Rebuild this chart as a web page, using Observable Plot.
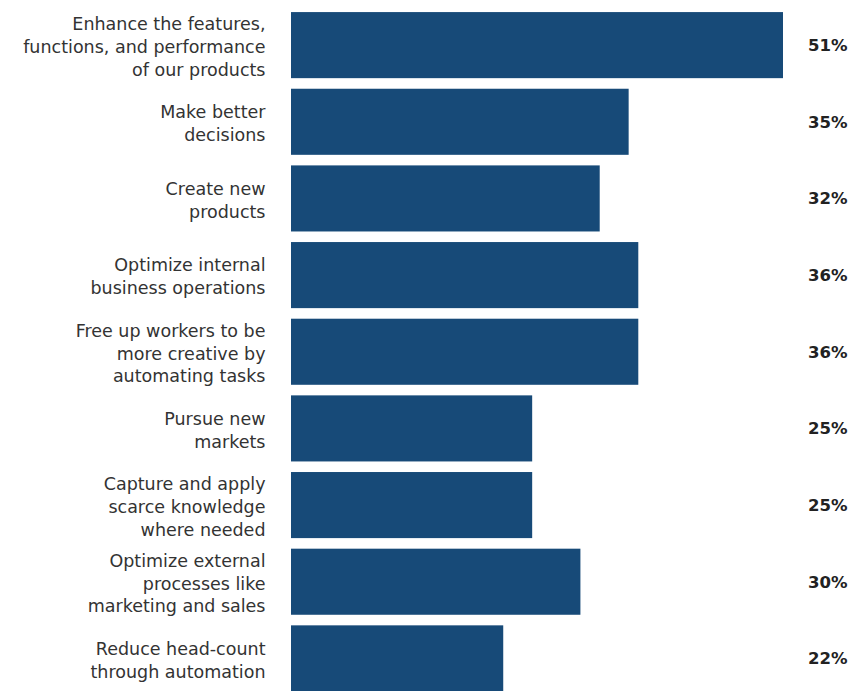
<!DOCTYPE html>
<html>
<head>
<meta charset="utf-8">
<script src="https://cdn.jsdelivr.net/npm/d3@7"></script>
<script src="https://cdn.jsdelivr.net/npm/@observablehq/plot@0.6"></script>
<style>
  html, body { margin: 0; padding: 0; background: #fff; overflow: hidden; }
  #chart { width: 852px; height: 691px; overflow: hidden; }
</style>
</head>
<body>
<div id="chart"></div>
<script>
const categories = [
  "Enhance the features,\nfunctions, and performance\nof our products",
  "Make better\ndecisions",
  "Create new\nproducts",
  "Optimize internal\nbusiness operations",
  "Free up workers to be\nmore creative by\nautomating tasks",
  "Pursue new\nmarkets",
  "Capture and apply\nscarce knowledge\nwhere needed",
  "Optimize external\nprocesses like\nmarketing and sales",
  "Reduce head-count\nthrough automation"
];
const values = [51, 35, 32, 36, 36, 25, 25, 30, 22];

const data = categories.map((c, i) => ({label: c, value: values[i]}));

const chart = Plot.plot({
  width: 852,
  height: 702,
  marginTop: 1.5,
  marginBottom: 0,
  marginLeft: 291,
  marginRight: 69,
  style: {fontFamily: "DejaVu Sans, Verdana, sans-serif", background: "#fff"},
  x: {domain: [0, 51], axis: null},
  y: {domain: categories, padding: 0.138, round: false, axis: null},
  marks: [
    Plot.barX(data, {x: "value", y: "label", fill: "#174a78"}),
    Plot.text(data, {
      y: "label", text: "label", frameAnchor: "left", textAnchor: "end",
      dx: -26, fontSize: 17.5, lineHeight: 1.3, fill: "#333"
    }),
    Plot.text(data, {
      y: "label", text: d => d.value + "%", frameAnchor: "right", textAnchor: "end",
      dx: 64, fontSize: 16.5, fontWeight: "bold", fill: "#222"
    })
  ]
});
document.getElementById("chart").append(chart);
</script>
</body>
</html>
